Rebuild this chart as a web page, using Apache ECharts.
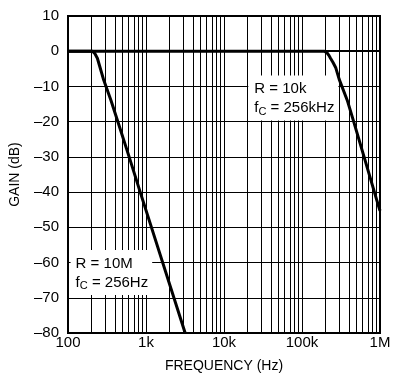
<!DOCTYPE html>
<html>
<head>
<meta charset="utf-8">
<script src="https://cdn.jsdelivr.net/npm/echarts@6/dist/echarts.min.js"></script>
<style>html,body{margin:0;padding:0;background:#fff}#c{width:401px;height:388px}</style>
</head>
<body>
<div id="c"></div>
<script>
// Data
var xTickValues = [100, 1000, 10000, 100000, 1000000];
var xTickLabels = ['100', '1k', '10k', '100k', '1M'];
var yTicks = [-80, -70, -60, -50, -40, -30, -20, -10, 0, 10];

var lowFreq = [100, 206, 213, 220, 228, 238, 256, 287, 355, 436, 608, 843, 3177];
var lowGain = [0, 0, -0.2, -0.6, -1.1, -2.0, -4.4, -8.2, -13.9, -20, -30, -40, -80];

var highFreq = [100, 194000, 202000, 210000, 220000, 232000, 250000, 270000, 300000, 380000, 460000, 625000, 907000, 1000000];
var highGain = [0, 0, -0.2, -0.5, -1.1, -2.0, -3.2, -4.6, -8, -13.9, -20, -30, -42.2, -45.3];

var minorMultipliers = [2, 3, 4, 5, 6, 7, 8, 9];
var decades = [100, 1000, 10000, 100000];

var FONT = 'Liberation Sans';

function pairs(xs, ys) { return xs.map(function (x, i) { return [x, ys[i]]; }); }
var minorLines = [];
decades.forEach(function (d) { minorMultipliers.forEach(function (m) { minorLines.push({ xAxis: d * m }); }); });

var richStyles = {
  a: { fontFamily: FONT, fontSize: 15, lineHeight: 19, color: '#000' },
  s: { fontFamily: FONT, fontSize: 11, lineHeight: 14, verticalAlign: 'bottom', color: '#000' }
};

var chart = echarts.init(document.getElementById('c'), null, { renderer: 'canvas' });
chart.setOption({
  animation: false,
  backgroundColor: '#fff',
  grid: { left: 63, right: 21, top: 16, bottom: 55, show: true, borderColor: '#000', borderWidth: 2, backgroundColor: 'transparent' },
  xAxis: {
    type: 'log', logBase: 10, min: 100, max: 1000000,
    axisLine: { show: true, lineStyle: { color: '#000', width: 2 } },
    axisTick: { show: false },
    splitLine: { show: true, lineStyle: { color: '#000', width: 1 } },
    axisLabel: {
      color: '#000', fontFamily: FONT, fontSize: 15, margin: 2,
      formatter: function (v) { var i = xTickValues.indexOf(Math.round(v)); return i >= 0 ? xTickLabels[i] : ''; }
    },
    name: 'FREQUENCY (Hz)', nameLocation: 'middle', nameGap: 26,
    nameTextStyle: { color: '#000', fontFamily: FONT, fontSize: 14 }
  },
  yAxis: {
    type: 'value', min: -80, max: 10, interval: 10,
    axisLine: { show: true, lineStyle: { color: '#000', width: 2 } },
    axisTick: { show: false },
    splitLine: { show: true, lineStyle: { color: '#000', width: 1 } },
    axisLabel: {
      color: '#000', fontFamily: FONT, fontSize: 15, margin: 9,
      formatter: function (v) { return yTicks.indexOf(v) >= 0 ? String(v).replace('-', '\u2013') : ''; }
    },
    name: 'GAIN (dB)', nameLocation: 'middle', nameGap: 46,
    nameTextStyle: { color: '#000', fontFamily: FONT, fontSize: 14 }
  },
  series: [
    {
      type: 'line', name: 'grid', data: [[100, -80]], symbol: 'none', z: 1, silent: true,
      lineStyle: { opacity: 0 },
      markLine: {
        silent: true, symbol: ['none', 'none'], label: { show: false },
        lineStyle: { color: '#000', width: 1, type: 'solid' },
        data: minorLines
      }
    },
    {
      type: 'line', name: 'R = 10M', data: pairs(lowFreq, lowGain), symbol: 'none', z: 5,
      lineStyle: { color: '#000', width: 3, join: 'round' },
      markPoint: {
        symbol: 'rect', symbolSize: 0, silent: true,
        data: [{ coord: [108, -62.8] }],
        label: {
          show: true, position: 'right', distance: 0, backgroundColor: '#fff', padding: [4, 4, 3, 5],
          formatter: '{a|R = 10M}\n{a|f}{s|C}{a| = 256Hz}',
          rich: richStyles
        }
      }
    },
    {
      type: 'line', name: 'R = 10k', data: pairs(highFreq, highGain), symbol: 'none', z: 5,
      lineStyle: { color: '#000', width: 3, join: 'round' },
      markPoint: {
        symbol: 'rect', symbolSize: 0, silent: true,
        data: [{ coord: [20500, -13.3] }],
        label: {
          show: true, position: 'right', distance: 0, backgroundColor: '#fff', padding: [4, 4, 3, 6],
          formatter: '{a|R = 10k}\n{a|f}{s|C}{a| = 256kHz}',
          rich: richStyles
        }
      }
    }
  ]
});
</script>
</body>
</html>
